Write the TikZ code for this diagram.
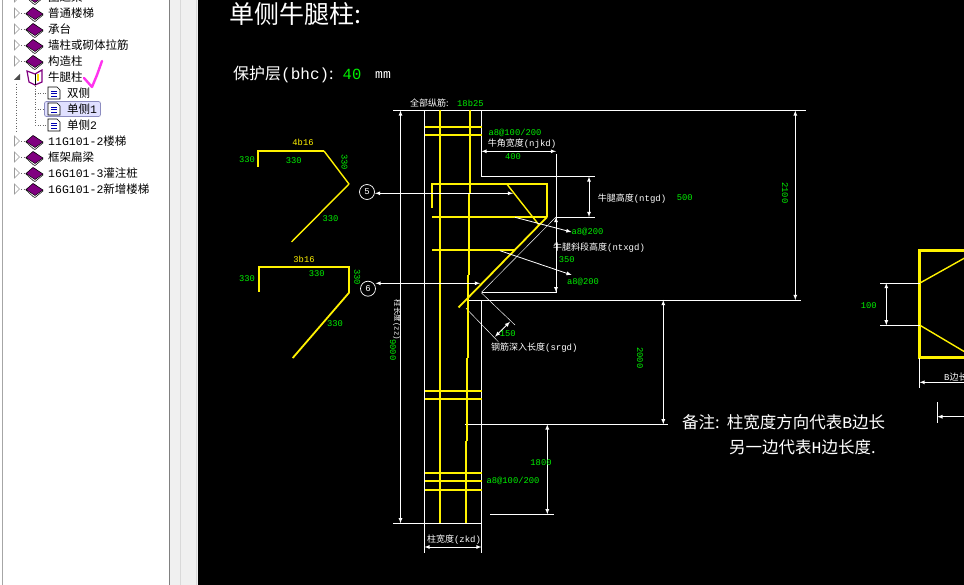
\documentclass[tikz,border=0pt]{standalone}
\usepackage{xcolor}
\usepackage{fontspec}
\setmainfont{Noto Sans CJK SC}
\setmonofont{Liberation Mono}
\usepackage{tikz}
\usetikzlibrary{positioning,shapes}
\definecolor{bookpurple}{HTML}{800080}
\definecolor{cadgreen}{HTML}{00F000}
\definecolor{penpink}{HTML}{FF33EE}
\tikzset{
  bar/.style={color=yellow,line width=1.8pt},
  thinbar/.style={color=yellow,line width=1.4pt},
  dim/.style={color=white,line width=0.8pt,>=latex},
  thindim/.style={color=white,line width=0.45pt},
  num/.style={color=cadgreen,font=\ttfamily\fontsize{8.8}{9}\selectfont,inner sep=0pt},
  rebar/.style={color=yellow,font=\ttfamily\fontsize{8.8}{9}\selectfont,inner sep=0pt},
  lbl/.style={color=white,font=\fontsize{9}{9}\selectfont,inner sep=0pt},
  ring/.style={circle,draw=white,color=white,minimum size=15pt,inner sep=0pt,line width=0.7pt,font=\ttfamily\fontsize{9}{9}\selectfont},
  tree/.style={color=black,anchor=west,inner sep=0pt,font=\fontsize{11.5}{12}\selectfont},
  hint/.style={color=white,anchor=west,inner sep=0pt,font=\fontsize{16.5}{17}\selectfont},
  treedots/.style={color=black!60,dotted,line width=0.6pt},
  book/.pic={
    \draw[color=black,line width=0.5pt,fill=white] (-9,0) -- (-2,6.5) -- (0,7.5) -- (8,1) -- (-1,-6) -- cycle;
    \draw[color=black,line width=0.5pt,fill=bookpurple] (-9,-0.5) -- (-2,-6.5) -- (8,0) -- (0,5.5) -- cycle;
  },
  openbook/.pic={
    \draw[color=bookpurple,line width=1.2pt,fill=white] (-8,-6) -- (0,-3) -- (7,-7) -- (7,5) -- (0,8) -- (-6,5) -- cycle;
    \draw[color=black,line width=0.5pt] (0,-3) -- (0,8);
    \fill[color=yellow!80!orange] (2,-3) rectangle (4,4);
  },
  leaf/.pic={
    \draw[color=black,line width=0.7pt,fill=white] (-6,-6) -- (3,-6) -- (6,-3) -- (6,6) -- (-6,6) -- cycle;
    \draw[color=blue!70!black,line width=0.8pt] (-3,-2) -- (3,-2) (-3,0.5) -- (3,0.5) (-3,3) -- (3,3);
  },
  shut/.pic={
    \draw[color=black!40,line width=0.6pt,fill=white] (-2.5,-5) -- (2.5,0) -- (-2.5,5) -- cycle;
    \draw[treedots] (4,0) -- (9,0);
  }
}

\begin{document}
\begin{tikzpicture}[x={(1pt,0pt)},y={(0pt,-1pt)}]
	\clip (0,0) rectangle (964,585);
	\fill[color=black] (0,0) rectangle (964,585);
	%side panel
	\fill[color=white] (0,0) rectangle (169,585);
	\fill[color=black!6] (169,0) rectangle (198,585);
	\draw[color=black!50,line width=1pt] (169.5,0) -- (169.5,585);
	\draw[color=black!15,line width=1pt] (180.5,0) -- (180.5,585);
	\draw[color=black!15,line width=1pt] (196.5,0) -- (196.5,585);
	\draw[color=black!35,line width=0.8pt] (2.5,0) -- (2.5,585);
	\draw[treedots] (16,84) -- (16,133);
	\draw[treedots] (35,86) -- (35,125) -- (47,125);
	\draw[treedots] (35,93) -- (47,93);
	\draw[treedots] (35,109) -- (44,109);

	\draw (17,-3) pic{shut};
	\draw (35,-3) pic{book};
	\node[tree] (treequan) at (48,-3) {圈过梁};
	\draw (17,13) pic{shut};
	\draw (35,14) pic{book};
	\node[tree] (treelouti) at (48,13) {普通楼梯};
	\draw (17,29) pic{shut};
	\draw (35,30) pic{book};
	\node[tree] (treechengtai) at (48,29) {承台};
	\draw (17,45) pic{shut};
	\draw (35,46) pic{book};
	\node[tree] (treelajin) at (48,45) {墙柱或砌体拉筋};
	\draw (17,61) pic{shut};
	\draw (35,62) pic{book};
	\node[tree] (treegouzao) at (48,61) {构造柱};
	\fill[color=black!70] (14,80) -- (20,74) -- (20,80) -- cycle;
	\draw (35,77) pic{openbook};
	\node[tree] (treeniutui) at (48,77) {牛腿柱};
	\draw (54,93) pic{leaf};
	\node[tree] (treeshuang) at (67,93) {双侧};
	\draw[color=blue!45!black!45,fill=blue!12,rounded corners=2pt,line width=0.7pt] (44.5,101.5) rectangle (100.5,116.5);
	\draw (54,109) pic{leaf};
	\node[tree] (treedanone) at (67,109) {单侧\texttt{1}};
	\draw (54,125) pic{leaf};
	\node[tree] (treedantwo) at (67,125) {单侧\texttt{2}};
	\draw (17,141) pic{shut};
	\draw (35,142) pic{book};
	\node[tree] (treeelevena) at (48,141) {\texttt{11G101-2}楼梯};
	\draw (17,157) pic{shut};
	\draw (35,158) pic{book};
	\node[tree] (treebianliang) at (48,157) {框架扁梁};
	\draw (17,173) pic{shut};
	\draw (35,174) pic{book};
	\node[tree] (treeguanzhu) at (48,173) {\texttt{16G101-3}灌注桩};
	\draw (17,189) pic{shut};
	\draw (35,190) pic{book};
	\node[tree] (treexinzeng) at (48,189) {\texttt{16G101-2}新增楼梯};
	\draw[color=penpink,line width=2.4pt,line cap=round,line join=round] (84,78) -- (92,87) -- (97,75) -- (102,61);

	%heading
	\node[color=white,anchor=west,inner sep=0pt,font=\fontsize{25}{25}\selectfont] (heading) at (229,14) {单侧牛腿柱:};
	\node[color=white,anchor=west,inner sep=0pt,font=\fontsize{16}{16}\selectfont] (cover) at (233,74) {保护层\texttt{(bhc)}:};
	\node[color=cadgreen,font=\ttfamily\fontsize{15.5}{16}\selectfont,inner sep=0pt] (covernum) at (352,74) {40};
	\node[color=white,font=\ttfamily\fontsize{13}{13}\selectfont,inner sep=0pt] (coverunit) at (383,75) {mm};

	%stirrup sketches on the left
	\draw[bar] (258,167) -- (258,151) -- (324,151);
	\draw[thinbar] (324,151) -- (349,184);
	\draw[thinbar] (349,184) -- (291.5,242);
	\draw[bar] (259,292) -- (259,266.7) -- (349,266.7) -- (349,292.7);
	\draw[bar] (349,292.7) -- (292.7,358);
	\node[rebar] (topbars) at (303,142) {4b16};
	\node[num] (topa) at (247,159.7) {330};
	\node[num] (topb) at (293.7,160.5) {330};
	\node[num,rotate=-90] (topc) at (344.5,162) {330};
	\node[num] (topd) at (330.5,218.5) {330};
	\node[rebar] (lowbars) at (304,259.7) {3b16};
	\node[num] (lowa) at (247,278.7) {330};
	\node[num] (lowb) at (316.7,273.3) {330};
	\node[num,rotate=-90] (lowc) at (357.3,277) {330};
	\node[num] (lowd) at (335,323.7) {330};
	\node[ring] (markfive) at (367,192) {5};
	\node[ring] (marksix) at (368,288.7) {6};

	%column outline
	\draw[dim] (393,110.5) -- (805.5,110.5);
	\draw[dim] (424.5,110.5) -- (424.5,553);
	\draw[dim] (481.5,110.5) -- (481.5,176.5) -- (595,176.5);
	\draw[dim] (481.5,300) -- (481.5,553);
	\draw[dim] (393,523.3) -- (481.5,523.3);
	\draw[dim] (467,300) -- (801,300);
	\draw[dim] (481.5,292.3) -- (556,292.3) -- (556,217) -- (595,217);
	\draw[dim] (556,217) -- (556,154);
	\draw[thindim] (481.5,292.3) -- (556,217);
	\draw[thindim] (481.5,293) -- (515,325);
	\draw[thindim] (466,308.3) -- (498.3,341.7);
	\draw[dim] (465,424.3) -- (668,424.3);
	\draw[dim] (490,514.3) -- (554,514.3);

	%bars
	\draw[bar] (440,110.5) -- (440,523.3);
	\draw[bar] (470,110.5) -- (470,193);
	\draw[bar] (469,193) -- (469,275);
	\draw[bar] (467.7,275) -- (467.7,358);
	\draw[bar] (467,358) -- (467,441);
	\draw[bar] (466,441) -- (466,523.3);
	\draw[bar] (424.5,126.7) -- (481.5,126.7);
	\draw[bar] (424.5,134.7) -- (481.5,134.7);
	\draw[bar] (424.5,390.7) -- (481.5,390.7);
	\draw[bar] (424.5,399) -- (481.5,399);
	\draw[bar] (424.5,473) -- (481.5,473);
	\draw[bar] (424.5,481) -- (481.5,481);
	\draw[bar] (424.5,490) -- (481.5,490);
	\draw[bar] (432,208) -- (432,184.3) -- (547,184.3) -- (547,217);
	\draw[bar] (432,217) -- (547,217);
	\draw[bar] (432,250) -- (515,250);
	\draw[thinbar] (507,184.3) -- (539,225);
	\draw[bar] (547,217) -- (458.5,307.5);

	%dimensions
	\draw[dim,<->] (400.5,110.5) -- (400.5,523.3);
	\draw[dim,<->] (795.3,110.5) -- (795.3,300);
	\draw[dim,<->] (663.3,300) -- (663.3,424.3);
	\draw[dim,<->] (547.3,424.3) -- (547.3,514.3);
	\draw[dim,<->] (589,176.5) -- (589,217);
	\draw[dim,<->] (556,217) -- (556,292.3);
	\draw[dim,<->] (481.5,151.3) -- (556,151.3);
	\draw[dim,<->] (424.5,547) -- (481.5,547);
	\draw[dim,<->] (495,336.7) -- (510,321.7);
	\coordinate (fivetip) at (513,193.3);
	\coordinate (fivestart) at (375,193.3);
	\coordinate (sixtip) at (480,283.3);
	\coordinate (sixstart) at (375.5,283.3);
	\draw[dim,<->] (fivestart) -- (fivetip);
	\draw[dim,<->] (sixstart) -- (sixtip);

	%labels
	\node[lbl,anchor=west] (allbars) at (410,103) {全部纵筋:};
	\node[num,anchor=west] (allnum) at (457,103.5) {18b25};
	\node[num] (hoopa) at (515,132.7) {a8@100/200};
	\node[lbl] (widthlbl) at (522,143.7) {牛角宽度\texttt{(njkd)}};
	\node[num] (widthnum) at (513,156.3) {400};
	\node[lbl] (highlbl) at (632,198.7) {牛腿高度\texttt{(ntgd)}};
	\node[num] (highnum) at (684.7,197.3) {500};
	\node[num] (hoopb) at (587.5,232) {a8@200};
	\node[lbl] (slantlbl) at (599,247.3) {牛腿斜段高度\texttt{(ntxgd)}};
	\node[num] (slantnum) at (566.7,259.3) {350};
	\node[num] (hoopc) at (583,281.7) {a8@200};
	\node[num] (depthnum) at (507.7,333.3) {150};
	\node[lbl] (depthlbl) at (534.3,347.3) {钢筋深入长度\texttt{(srgd)}};
	\node[num,rotate=-90] (fullnum) at (785,193) {2100};
	\node[num,rotate=-90] (beamnum) at (640,358) {2000};
	\node[lbl,rotate=-90,font=\fontsize{7.5}{8}\selectfont] (lenlbl) at (397,320) {柱长度\texttt{(zz)}};
	\node[num,rotate=-90] (lennum) at (393,350) {9000};
	\node[num] (lownum) at (541,463) {1800};
	\node[num] (hoopd) at (513,481) {a8@100/200};
	\node[lbl] (collbl) at (454,540) {柱宽度\texttt{(zkd)}};
	\coordinate (hoopctip) at (571.7,275);
	\draw[dim,->] (515,217.3) -- (hoopb.west);
	\draw[dim,->] (500,250.7) -- (hoopctip);

	%note
	\node[hint] (notea) at (682,422) {备注:\hspace{7pt}柱宽度方向代表\texttt{B}边长};
	\node[hint] (noteb) at (729,447) {另一边代表\texttt{H}边长度.};

	%section on the right
	\draw[color=yellow,line width=2.6pt] (970,250.3) -- (919.7,250.3) -- (919.7,357.7) -- (970,357.7);
	\draw[thinbar] (920,283) -- (970,255);
	\draw[thinbar] (920,325.3) -- (970,355);
	\draw[dim] (880,283) -- (920,283);
	\draw[dim] (880,325.3) -- (920,325.3);
	\draw[dim,<->] (886.3,283) -- (886.3,325.3);
	\node[num] (sidenum) at (868.7,305.7) {100};
	\draw[dim] (919.5,358) -- (919.5,388);
	\draw[dim,<-] (919.5,382.3) -- (970,382.3);
	\node[lbl,anchor=west] (sidelbl) at (944,377) {\texttt{B}边长};
	\draw[dim] (937.3,402) -- (937.3,422.7);
	\draw[dim,<-] (937.3,416.7) -- (970,416.7);
\end{tikzpicture}
\end{document}
